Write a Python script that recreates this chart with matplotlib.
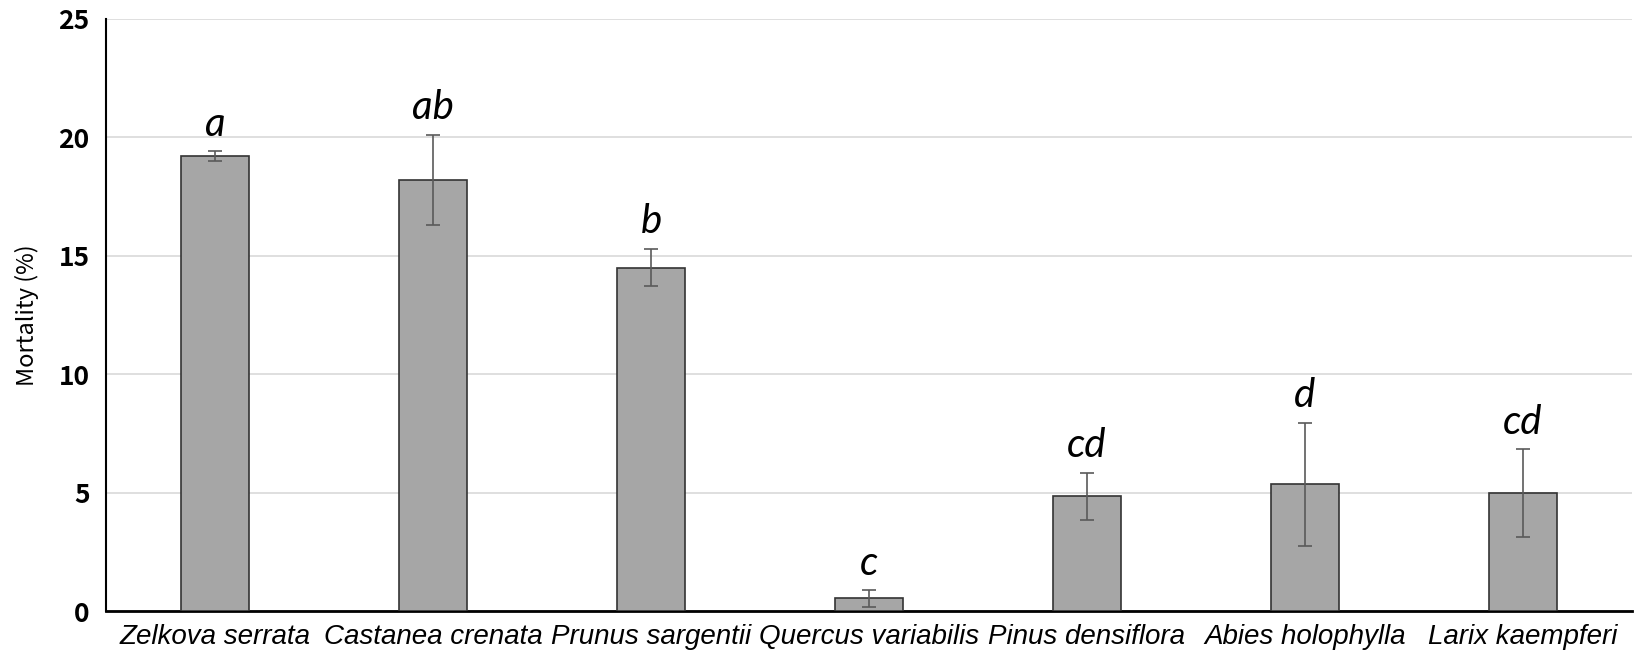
import numpy as np
import matplotlib
matplotlib.use("Agg")
import matplotlib.pyplot as plt

# 데이터
species = ["Zelkova serrata", "Castanea crenata", "Prunus sargentii", "Quercus variabilis",
           "Pinus densiflora", "Abies holophylla", "Larix kaempferi"]
mortality = [19.2, 18.2, 14.5, 0.55, 4.85, 5.35, 5.0]
se = [0.2, 1.9, 0.8, 0.35, 1.0, 2.6, 1.85]
letters = ["a", "ab", "b", "c", "cd", "d", "cd"]

plt.rcParams['font.family'] = ['Noto Sans CJK KR', 'DejaVu Sans']

fig = plt.figure(figsize=(16.35, 6.63), dpi=100)
ax = fig.add_axes([0.065, 0.078, 0.933, 0.894])

x = np.arange(len(species))
ax.bar(x, mortality, width=0.31, color='#a6a6a6', edgecolor='#333333', linewidth=1.2, zorder=3)
ax.errorbar(x, mortality, yerr=se, fmt='none', ecolor='#5a5a5a', elinewidth=1.2,
            capsize=5, capthick=1.2, zorder=4)

# 유의성 문자
for xi, m, s, lab in zip(x, mortality, se, letters):
    ax.annotate(lab, (xi, m + s), xytext=(0, 6), textcoords='offset points',
                ha='center', va='bottom', fontsize=29, style='italic', family='Lato')

ax.set_xlim(-0.5, len(species) - 0.5)
ax.set_ylim(0, 25)
ax.set_yticks([0, 5, 10, 15, 20, 25])
ax.yaxis.grid(True, color='#d9d9d9', linewidth=1.2, zorder=0)
ax.set_axisbelow(True)

ax.set_xticks(x)
ax.set_xticklabels(species, fontsize=20, style='italic', family='Liberation Sans')
ax.tick_params(axis='y', labelsize=19, length=0, pad=12)
for t in ax.get_yticklabels():
    t.set_fontweight('bold')
ax.tick_params(axis='x', length=0, pad=9)
ax.set_ylabel("Mortality (%)", fontsize=17, labelpad=14)

for sp in ['top', 'right']:
    ax.spines[sp].set_visible(False)
ax.spines['left'].set_linewidth(1.5)
ax.spines['bottom'].set_linewidth(2)

fig.savefig("out.png", dpi=100)
